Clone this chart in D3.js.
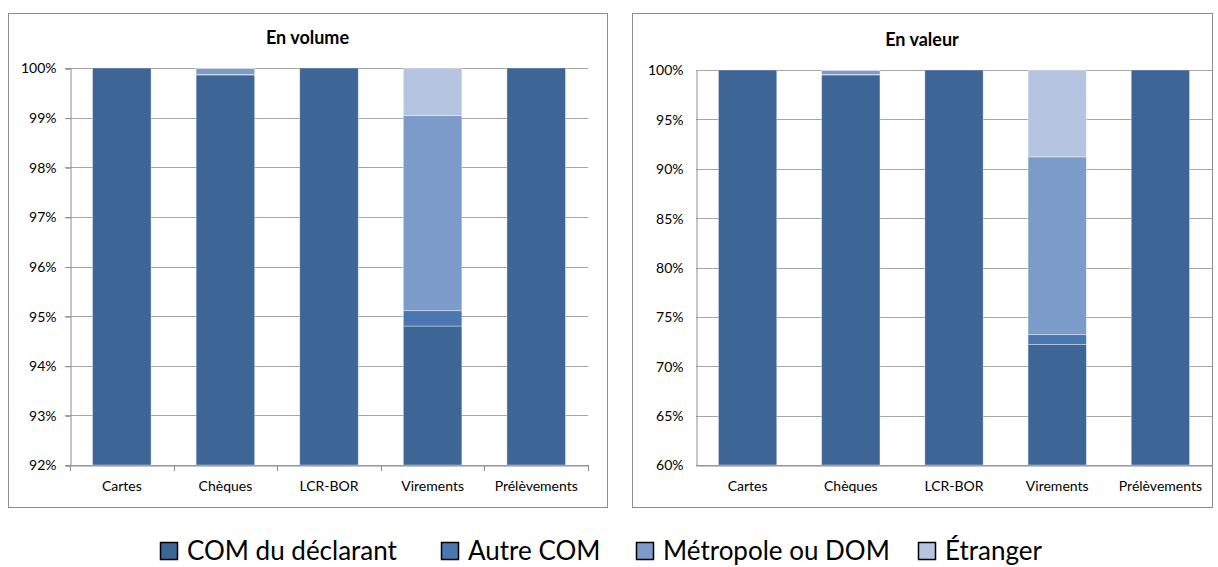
<!DOCTYPE html>
<html>
<head>
<meta charset="utf-8">
<script src="https://cdn.jsdelivr.net/npm/d3@7"></script>
<style>
  body { margin: 0; background: #fff; }
  svg { display: block; font-family: Lato, "Open Sans", sans-serif; }
</style>
</head>
<body>
<svg id="chart" width="1218" height="567"></svg>
<script>
// Payment instruments
const categories = ["Cartes", "Chèques", "LCR-BOR", "Virements", "Prélèvements"];

// Series (destination of the operation)
const seriesNames = ["COM du déclarant", "Autre COM", "Métropole ou DOM", "Étranger"];
const seriesKeys = ["com", "autre", "metro", "etranger"];
const colors = ["#3d6596", "#4a77b1", "#7b9cc9", "#b6c5df"];

// Share in volume (%)
const volumeCom      = [100, 99.86, 100, 94.80, 100];
const volumeAutre    = [0,   0.01,  0,   0.31,  0];
const volumeMetro    = [0,   0.12,  0,   3.93,  0];
const volumeEtranger = [0,   0.01,  0,   0.96,  0];

// Share in value (%)
const valeurCom      = [100, 99.5,  100, 72.2, 100];
const valeurAutre    = [0,   0.05,  0,   1.0,  0];
const valeurMetro    = [0,   0.4,   0,   18.0, 0];
const valeurEtranger = [0,   0.05,  0,   8.8,  0];

// Axis ticks
const volumeTicks = [92, 93, 94, 95, 96, 97, 98, 99, 100];
const valeurTicks = [60, 65, 70, 75, 80, 85, 90, 95, 100];

const svg = d3.select("#chart");

function rows(com, autre, metro, etranger) {
  return categories.map((c, i) => ({
    cat: c, com: com[i], autre: autre[i], metro: metro[i], etranger: etranger[i]
  }));
}

function drawPanel(opts) {
  const { box, plot, title, titleY, data, ticks, xTicks } = opts;

  // frame
  svg.append("rect")
    .attr("x", box.x + 0.5).attr("y", box.y + 0.5)
    .attr("width", box.w).attr("height", box.h)
    .attr("fill", "#fff").attr("stroke", "#8c8c8c").attr("stroke-width", 1);

  svg.append("text")
    .attr("x", box.x + box.w / 2).attr("y", titleY)
    .attr("text-anchor", "middle")
    .attr("font-size", 18).attr("font-weight", "bold").attr("fill", "#000")
    .text(title);

  const x = d3.scaleBand().domain(categories)
    .range([plot.x0, plot.x1]).paddingInner(0.435).paddingOuter(0.2175);
  const y = d3.scaleLinear().domain(d3.extent(ticks))
    .range([plot.y1, plot.y0]).clamp(true);

  // horizontal gridlines
  const grid = svg.append("g");
  grid.selectAll("line").data(ticks).join("line")
    .attr("x1", plot.x0 - (xTicks ? 5 : 0)).attr("x2", plot.x1)
    .attr("y1", d => Math.round(y(d)) + 0.5).attr("y2", d => Math.round(y(d)) + 0.5)
    .attr("stroke", "#a6a6a6").attr("stroke-width", 1);

  // stacked bars
  const stack = d3.stack().keys(seriesKeys)(data);
  svg.append("g").selectAll("g").data(stack).join("g")
    .attr("fill", (d, i) => colors[i])
    .selectAll("rect").data(d => d).join("rect")
    .attr("x", d => x(d.data.cat))
    .attr("width", x.bandwidth())
    .attr("y", d => y(d[1]))
    .attr("height", d => Math.max(0, y(d[0]) - y(d[1])))
    .attr("stroke", "rgba(255,255,255,0.45)").attr("stroke-width", 0.8);

  // axes
  const yAxis = d3.axisLeft(y).tickValues(ticks)
    .tickSize(xTicks ? 5 : 0).tickPadding(xTicks ? 9 : 13)
    .tickFormat(d => d + "%");
  const gy = svg.append("g").attr("transform", `translate(${plot.x0 + 0.5},0.5)`).call(yAxis);
  gy.select(".domain").attr("stroke", "#8c8c8c");
  gy.selectAll(".tick line").attr("stroke", "#8c8c8c");
  gy.selectAll("text").attr("font-size", 14).attr("fill", "#000")
    .attr("font-family", "Lato, sans-serif");

  const xAxis = d3.axisBottom(x).tickSize(0).tickPadding(16);
  const gx = svg.append("g").attr("transform", `translate(0,${Math.round(plot.y1) + 0.5})`).call(xAxis);
  gx.select(".domain").attr("stroke", "#8c8c8c");
  gx.selectAll("text").attr("font-size", 14).attr("fill", "#000")
    .attr("font-family", "Lato, sans-serif");

  if (xTicks) {
    // category separators below the baseline
    const step = x.step();
    const bounds = d3.range(categories.length + 1).map(i => plot.x0 + i * step);
    svg.append("g").selectAll("line").data(bounds).join("line")
      .attr("x1", d => Math.round(d) + 0.5).attr("x2", d => Math.round(d) + 0.5)
      .attr("y1", Math.round(plot.y1)).attr("y2", Math.round(plot.y1) + 6)
      .attr("stroke", "#8c8c8c");
  }
}

drawPanel({
  box: { x: 8, y: 13, w: 599, h: 494 },
  plot: { x0: 70, x1: 588, y0: 68, y1: 465 },
  title: "En volume", titleY: 44,
  data: rows(volumeCom, volumeAutre, volumeMetro, volumeEtranger),
  ticks: volumeTicks, xTicks: true
});

drawPanel({
  box: { x: 632, y: 13, w: 580, h: 494 },
  plot: { x0: 696, x1: 1212, y0: 70, y1: 465 },
  title: "En valeur", titleY: 46,
  data: rows(valeurCom, valeurAutre, valeurMetro, valeurEtranger),
  ticks: valeurTicks, xTicks: false
});

// legend
const legendX = [160, 441, 636, 918];
const legend = svg.append("g");
seriesNames.forEach((name, i) => {
  const g = legend.append("g").attr("transform", `translate(${legendX[i]},542)`);
  g.append("rect").attr("x", 0.5).attr("y", 0.5).attr("width", 17).attr("height", 17)
    .attr("fill", colors[i]).attr("stroke", "#000").attr("stroke-width", 1.5);
  g.append("text").attr("x", 27).attr("y", 18)
    .attr("font-size", 26).attr("fill", "#000").text(name);
});
</script>
</body>
</html>
